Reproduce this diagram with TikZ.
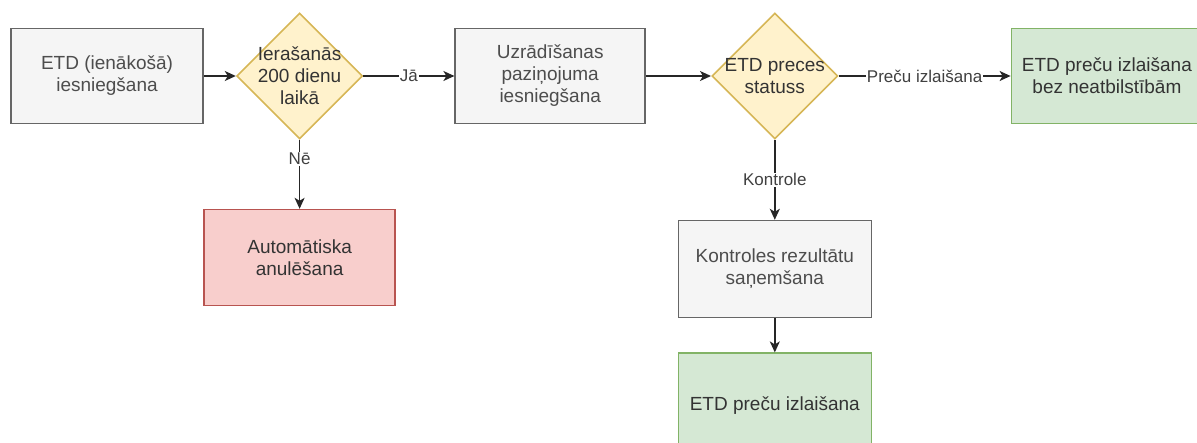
\documentclass[tikz,border=0pt]{standalone}
\usepackage{fontspec}
\setmainfont{Liberation Sans}
\usetikzlibrary{shapes.geometric, arrows.meta, positioning}
\definecolor{grayfill}{HTML}{F5F5F5}
\definecolor{graydraw}{HTML}{666666}
\definecolor{graytext}{HTML}{4D4D4D}
\definecolor{yelfill}{HTML}{FFF2CC}
\definecolor{yeldraw}{HTML}{D6B656}
\definecolor{redfill}{HTML}{F8CECC}
\definecolor{reddraw}{HTML}{B85450}
\definecolor{grnfill}{HTML}{D5E8D4}
\definecolor{grndraw}{HTML}{82B366}
\tikzset{
  % Process boxes
  procbox/.style={
    rectangle, minimum width=192pt, minimum height=95pt, inner sep=0pt,
    draw=#1draw, fill=#1fill, line width=1.6pt, align=center,
    font=\fontsize{19pt}{22pt}\selectfont, text=black!80,
  },
  procbox/.default={gray},
  % Decision diamonds (text set as centre label so it does not size the shape)
  decision/.style={
    diamond, minimum width=126pt, minimum height=126pt, inner sep=0pt,
    draw=yeldraw, fill=yelfill, line width=1.6pt,
  },
  dtext/.style={align=center, font=\fontsize{19pt}{22pt}\selectfont, text=black!80},
  % Arrows
  flow/.style={-{Stealth[length=11pt, width=10pt, inset=3pt]}, line width=1.6pt, black!85},
  flowlabel/.style={font=\fontsize{17pt}{20pt}\selectfont, fill=white, inner sep=1pt, text=black!75},
}
\begin{document}
\begin{tikzpicture}
  \useasboundingbox (0,0) rectangle (1197pt,-442pt);

  % Top row
  \node[procbox, text=graytext] (in) at (107pt,-76pt) {ETD (ienākošā)\\iesniegšana};
  \node[decision, right=32pt of in,
    label={[dtext]center:Ierašanās\\200 dienu\\laikā}] (d1) {};
  \node[procbox, text=graytext, minimum width=190pt, right=91pt of d1] (notice) {Uzrādīšanas\\paziņojuma\\iesniegšana};
  \node[decision, right=65pt of notice,
    label={[dtext]center:ETD preces\\statuss}] (d2) {};
  \node[procbox=grn, minimum width=191pt, right=172pt of d2] (release) {ETD preču izlaišana\\bez neatbilstībām};

  % Lower branches
  \node[procbox=red, minimum width=191pt, minimum height=96pt, below=69pt of d1] (cancel) {Automātiska\\anulēšana};
  \node[procbox, text=graytext, minimum width=193pt, minimum height=97pt, below=80pt of d2] (results) {Kontroles rezultātu\\saņemšana};
  \node[procbox=grn, minimum width=193pt, minimum height=104pt, below=34pt of results] (release2) {ETD preču izlaišana};

  % Arrows
  \draw[flow] (in) -- (d1);
  \draw[flow] (d1) -- (notice) node[flowlabel, midway] {Jā};
  \draw[flow] (d1) -- (cancel) node[flowlabel, pos=0.28] {Nē};
  \draw[flow] (notice) -- (d2);
  \draw[flow] (d2) -- (release) node[flowlabel, midway] {Preču izlaišana};
  \draw[flow] (d2) -- (results) node[flowlabel, midway] {Kontrole};
  \draw[flow] (results) -- (release2);

\end{tikzpicture}
\end{document}
